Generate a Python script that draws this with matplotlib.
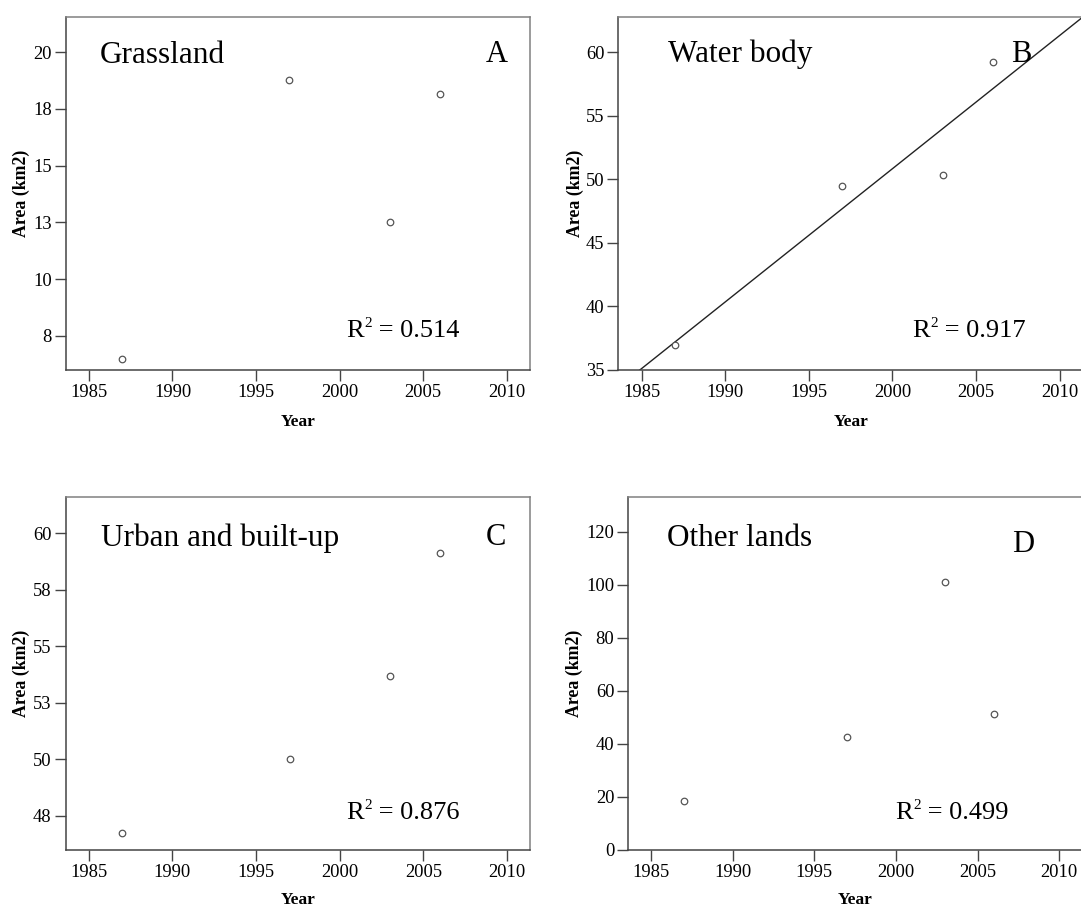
import numpy as np
import matplotlib
matplotlib.use("Agg")
import matplotlib.pyplot as plt

plt.rcParams['font.family'] = ['Liberation Serif', 'DejaVu Serif']

# ---------------- data ----------------
years = [1987, 1997, 2003, 2006]
grassland = [6.47, 18.79, 12.51, 18.15]
water_body = [36.94, 49.47, 50.37, 59.26]
urban = [46.72, 49.99, 53.69, 59.13]
other_lands = [18.6, 42.7, 101.1, 51.3]

x_ticks = [1985, 1990, 1995, 2000, 2005, 2010]
x_ticklabels = ['1985', '1990', '1995', '2000', '2005', '2010']

a_yticks = [7.5, 10, 12.5, 15, 17.5, 20]
a_yticklabels = ['8', '10', '13', '15', '18', '20']
b_yticks = [35, 40, 45, 50, 55, 60]
b_yticklabels = ['35', '40', '45', '50', '55', '60']
c_yticks = [47.5, 50, 52.5, 55, 57.5, 60]
c_yticklabels = ['48', '50', '53', '55', '58', '60']
d_yticks = [0, 20, 40, 60, 80, 100, 120]
d_yticklabels = ['0', '20', '40', '60', '80', '100', '120']

titles = ['Grassland', 'Water body', 'Urban and built-up', 'Other lands']
letters = ['A', 'B', 'C', 'D']
r2_labels = ['0.514', '0.917', '0.876', '0.499']

# ---------------- layout ----------------
W, H = 1081, 908
fig = plt.figure(figsize=(W / 100, H / 100), dpi=100)
fig.patch.set_facecolor('white')
renderer = fig.canvas.get_renderer()


def px_axes(left, top, right, bottom):
    return fig.add_axes([left / W, (H - bottom) / H, (right - left) / W, (bottom - top) / H])


def ftext(x, y, s, **kw):
    return fig.text(x / W, (H - y) / H, s, **kw)


def r2_text(x, y, value, size=19):
    t1 = ftext(x, y, 'R', fontsize=size, ha='left', va='baseline')
    bb = t1.get_window_extent(renderer)
    x2 = bb.x1 + 0.5
    t2 = ftext(x2, y - size * 0.52, '2', fontsize=size * 0.58, ha='left', va='baseline')
    bb2 = t2.get_window_extent(renderer)
    ftext(bb2.x1, y, ' = ' + value, fontsize=size, ha='left', va='baseline')


panels = [
    dict(rect=(65.7, 16.7, 530.0, 370.0), y=grassland, ylim=(5.99, 21.57),
         yt=a_yticks, ytl=a_yticklabels, fit=False,
         title_xy=(100, 63), letter_xy=(508, 62), r2_xy=(346.6, 337),
         ylab_x=21.5, xlab_y=426),
    dict(rect=(618.3, 16.7, 1083.0, 370.0), y=water_body, ylim=(35.0, 62.81),
         yt=b_yticks, ytl=b_yticklabels, fit=True,
         title_xy=(667.6, 62), letter_xy=(1031, 62), r2_xy=(912, 337),
         ylab_x=575, xlab_y=426),
    dict(rect=(65.5, 496.7, 530.3, 850.0), y=urban, ylim=(45.98, 61.61),
         yt=c_yticks, ytl=c_yticklabels, fit=False,
         title_xy=(101, 546), letter_xy=(506, 545), r2_xy=(346.6, 819),
         ylab_x=21.5, xlab_y=904),
    dict(rect=(628.3, 496.7, 1082.0, 850.0), y=other_lands, ylim=(0.0, 133.2),
         yt=d_yticks, ytl=d_yticklabels, fit=False,
         title_xy=(666.6, 546), letter_xy=(1034, 552), r2_xy=(895, 819),
         ylab_x=574, xlab_y=904),
]

xlim = (1983.61, 2011.39)
spine_dark = '#444444'
spine_light = '#808080'

for i, p in enumerate(panels):
    l, t, r, b = p['rect']
    ax = px_axes(l, t, r, b)
    ax.set_facecolor('white')
    ax.scatter(years, p['y'], s=22, facecolors='white', edgecolors='#555555',
               linewidths=0.9, zorder=3, clip_on=False)
    if p['fit']:
        k, c0 = np.polyfit(years, p['y'], 1)
        xs = np.array(xlim)
        ax.plot(xs, k * xs + c0, color='#222222', lw=1.0, zorder=2)
    ax.set_xlim(*xlim)
    ax.set_ylim(*p['ylim'])
    ax.set_xticks(x_ticks)
    ax.set_xticklabels(x_ticklabels)
    ax.set_yticks(p['yt'])
    ax.set_yticklabels(p['ytl'])
    ax.tick_params(axis='both', direction='out', length=8, width=1.0,
                   color=spine_dark, labelsize=13.3, labelcolor='black')
    ax.tick_params(axis='x', pad=2)
    ax.tick_params(axis='y', pad=2)
    for side in ['left', 'bottom']:
        ax.spines[side].set_color(spine_dark)
        ax.spines[side].set_linewidth(1.1)
    for side in ['top', 'right']:
        ax.spines[side].set_color(spine_light)
        ax.spines[side].set_linewidth(1.1)

    tx, ty = p['title_xy']
    ftext(tx, ty, titles[i], fontsize=22.5, ha='left', va='baseline')
    lx, ly = p['letter_xy']
    ftext(lx, ly, letters[i], fontsize=22, ha='right', va='baseline')
    rx, ry = p['r2_xy']
    r2_text(rx, ry, r2_labels[i])

    ftext(p['ylab_x'], (t + b) / 2, 'Area (km2)', fontsize=12.8, fontweight='bold',
          rotation=90, ha='center', va='center')
    xc = (l + r) / 2
    ftext(xc, p['xlab_y'], 'Year', fontsize=12.5, fontweight='bold', ha='center', va='baseline')

fig.savefig('out.png', dpi=100)
